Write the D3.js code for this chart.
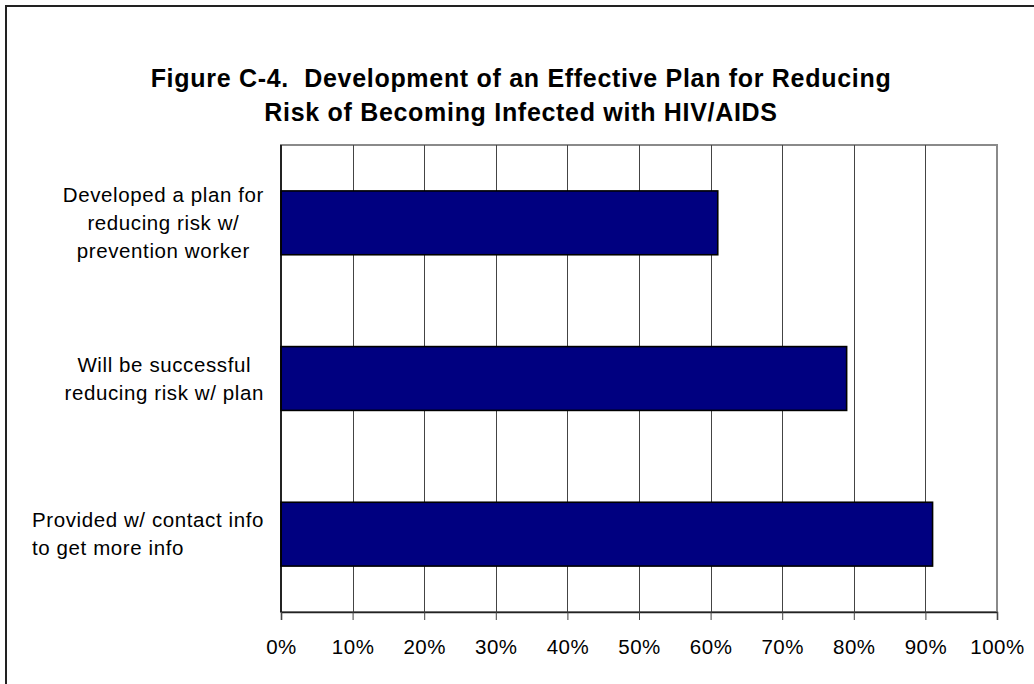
<!DOCTYPE html>
<html>
<head>
<meta charset="utf-8">
<script src="https://cdn.jsdelivr.net/npm/d3@7"></script>
<style>
  html, body { margin: 0; padding: 0; background: #fff; }
  svg { display: block; font-family: "Liberation Sans", Arial, sans-serif; }
  .title { white-space: pre; }
</style>
</head>
<body>
<svg id="chart" width="1034" height="684"></svg>
<script>
// Chart data
const titleLines = [
  "Figure C-4.  Development of an Effective Plan for Reducing",
  "Risk of Becoming Infected with HIV/AIDS"
];
const categories = [
  ["Developed a plan for", "reducing risk w/", "prevention worker"],
  ["Will be successful", "reducing risk w/ plan"],
  ["Provided w/ contact info", "to get more info"]
];
const values = [0.61, 0.79, 0.91];
const tickValues = [0, 0.1, 0.2, 0.3, 0.4, 0.5, 0.6, 0.7, 0.8, 0.9, 1.0];

const svg = d3.select("#chart");

// Outer frame (runs off the right and bottom edges)
svg.append("rect")
  .attr("x", 6).attr("y", 6)
  .attr("width", 1040).attr("height", 690)
  .attr("fill", "#fff")
  .attr("stroke", "#222").attr("stroke-width", 2);

// Title
const title = svg.append("text")
  .attr("class", "title")
  .attr("text-anchor", "middle")
  .attr("font-weight", "bold")
  .attr("font-size", 25)
  .attr("letter-spacing", 0.7)
  .attr("fill", "#000");
titleLines.forEach((t, i) => {
  title.append("tspan").attr("x", 521).attr("y", 87 + i * 34).text(t);
});

const plot = { left: 281, right: 997, top: 145, bottom: 612 };

const x = d3.scaleLinear().domain([0, 1]).range([plot.left, plot.right]);
const y = d3.scaleBand()
  .domain(d3.range(categories.length))
  .range([plot.top, plot.bottom])
  .paddingInner(0.59)
  .paddingOuter(0.295);

// Plot area border
svg.append("rect")
  .attr("x", plot.left).attr("y", plot.top)
  .attr("width", plot.right - plot.left).attr("height", plot.bottom - plot.top)
  .attr("fill", "#fff")
  .attr("stroke", "#8a8a8a").attr("stroke-width", 2);

// Vertical gridlines
svg.append("g")
  .selectAll("line")
  .data(tickValues.slice(1, -1))
  .join("line")
  .attr("x1", d => Math.round(x(d)) + 0.5).attr("x2", d => Math.round(x(d)) + 0.5)
  .attr("y1", plot.top).attr("y2", plot.bottom)
  .attr("stroke", "#444").attr("stroke-width", 1);

// Bars
svg.append("g")
  .selectAll("rect")
  .data(values)
  .join("rect")
  .attr("x", x(0))
  .attr("y", (d, i) => y(i))
  .attr("width", d => x(d) - x(0))
  .attr("height", y.bandwidth())
  .attr("fill", "#000080")
  .attr("stroke", "#000").attr("stroke-width", 1.6);

// Bottom axis
const xAxis = d3.axisBottom(x)
  .tickValues(tickValues)
  .tickFormat(d3.format(".0%"))
  .tickSize(8)
  .tickPadding(19);
const gx = svg.append("g")
  .attr("transform", `translate(0,${plot.bottom})`)
  .call(xAxis);
gx.select(".domain").attr("stroke", "#222").attr("stroke-width", 1.5);
gx.selectAll(".tick line").attr("stroke", "#444");
gx.selectAll(".tick text")
  .attr("font-size", 20.5)
  .attr("letter-spacing", 0.5)
  .attr("font-family", "Liberation Sans, Arial, sans-serif")
  .attr("fill", "#000");

// Left axis line
svg.append("line")
  .attr("x1", plot.left).attr("x2", plot.left)
  .attr("y1", plot.top).attr("y2", plot.bottom)
  .attr("stroke", "#000").attr("stroke-width", 1.5);

// Category labels: each block ends left of the axis, lines centered in the block
const labelRight = 264;
const lineGap = 28;
categories.forEach((lines, i) => {
  const cy = y(i) + y.bandwidth() / 2;
  const g = svg.append("g");
  const texts = lines.map((t, j) => g.append("text")
    .attr("font-size", 20.5)
    .attr("letter-spacing", 0.6)
    .attr("fill", "#000")
    .attr("y", cy + (j - (lines.length - 1) / 2) * lineGap)
    .attr("dy", "0.35em")
    .text(t));
  const widths = texts.map(t => t.node().getComputedTextLength());
  const blockW = d3.max(widths);
  const left = labelRight - blockW;
  texts.forEach((t, j) => {
    // the last label keeps its lines flush left
    const lx = i === categories.length - 1 ? left : left + (blockW - widths[j]) / 2;
    t.attr("x", lx);
  });
});
</script>
</body>
</html>
